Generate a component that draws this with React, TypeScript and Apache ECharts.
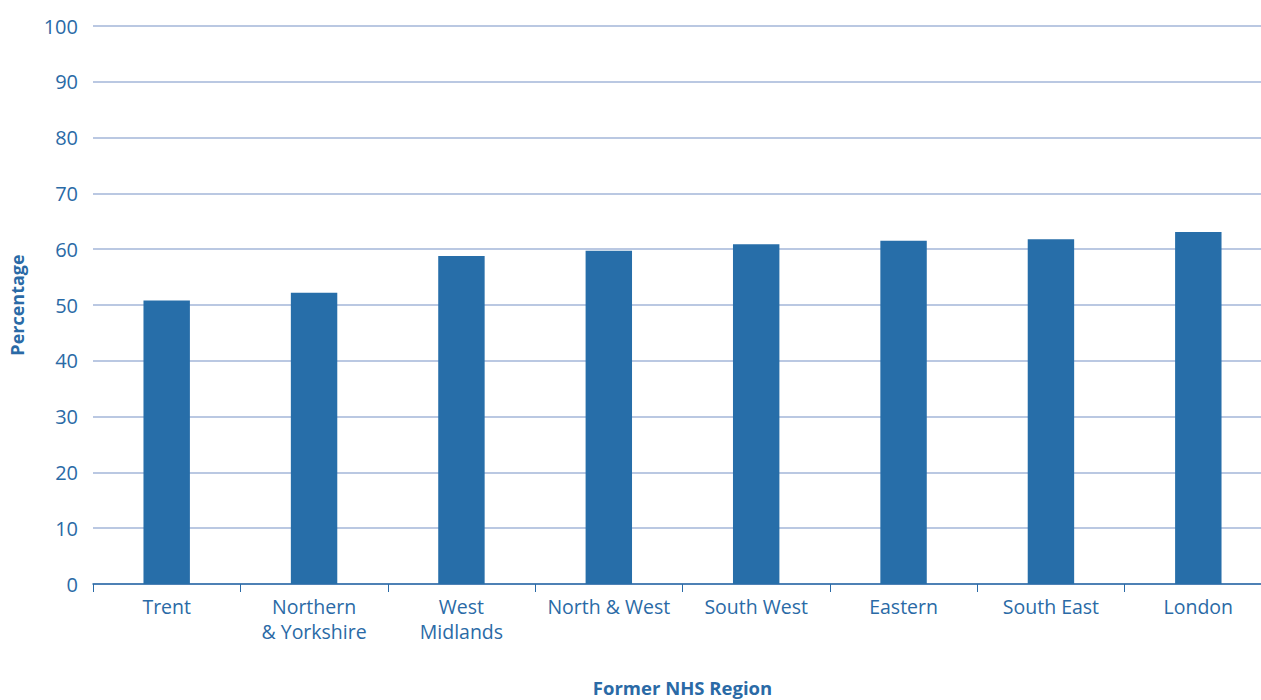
import React, { useEffect, useRef } from "react";
import * as echarts from "echarts";

const categories = [
  "Trent",
  "Northern\n& Yorkshire",
  "West\nMidlands",
  "North & West",
  "South West",
  "Eastern",
  "South East",
  "London",
];
const values = [50.8, 52.2, 58.8, 59.7, 60.9, 61.5, 61.8, 63.1];
const yTicks = { min: 0, max: 100, interval: 10 };

const TEXT = "#2a6aa6";
const FONT = "'Open Sans', 'Liberation Sans', sans-serif";

export default function App() {
  const ref = useRef<HTMLDivElement>(null);
  useEffect(() => {
    if (!ref.current) return;
    const chart = echarts.init(ref.current, null, { renderer: "svg" });
    chart.setOption({
      animation: false,
      grid: {
        left: 93,
        right: -11,
        top: 26,
        bottom: 116,
        containLabel: false,
        outerBoundsMode: "none",
      },
      xAxis: {
        type: "category",
        data: categories,
        name: "Former NHS Region",
        nameLocation: "middle",
        nameGap: 94,
        nameTextStyle: { color: TEXT, fontSize: 18.5, fontWeight: "bold", fontFamily: FONT },
        axisLine: { lineStyle: { color: TEXT, width: 1.5 } },
        axisTick: { show: true, alignWithLabel: false, length: 8, lineStyle: { color: TEXT } },
        axisLabel: {
          color: TEXT,
          fontSize: 19.5,
          fontFamily: FONT,
          margin: 10,
          lineHeight: 25,
          interval: 0,
        },
      },
      yAxis: {
        type: "value",
        min: yTicks.min,
        max: yTicks.max,
        interval: yTicks.interval,
        name: "Percentage",
        nameLocation: "middle",
        nameGap: 67,
        nameRotate: 90,
        nameTextStyle: { color: TEXT, fontSize: 18, fontWeight: "bold", fontFamily: FONT },
        axisLine: { show: false },
        axisTick: { show: false },
        axisLabel: { color: TEXT, fontSize: 20, fontFamily: FONT, margin: 15 },
        splitLine: { lineStyle: { color: "#a3b6d8", width: 1.5 } },
      },
      series: [
        {
          type: "bar",
          data: values,
          barWidth: "31.5%",
          itemStyle: { color: "#276ea9" },
        },
      ],
    });
    return () => chart.dispose();
  }, []);
  return <div ref={ref} style={{ width: 1261, height: 700, position: "absolute", left: 0, top: 0 }} />;
}
